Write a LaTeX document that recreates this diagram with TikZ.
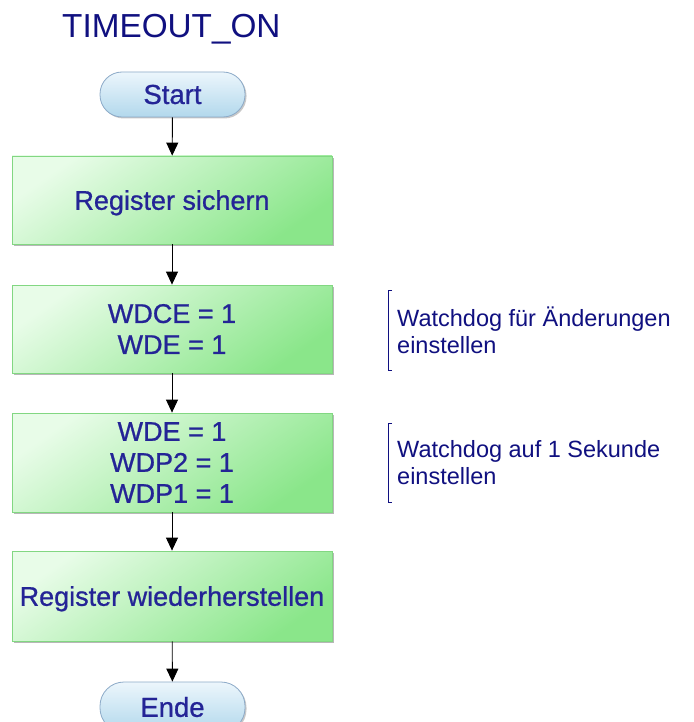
\documentclass[tikz,border=0pt]{standalone}
\usepackage{fontspec}
\setmainfont{Liberation Sans}
\newfontfamily\boxfont[FakeBold=0.8]{Liberation Sans}
\usetikzlibrary{arrows.meta,shadows}
\definecolor{navy}{RGB}{16,16,128}
\definecolor{boxtext}{RGB}{36,36,150}
\definecolor{greenlight}{RGB}{232,252,232}
\definecolor{greendark}{RGB}{138,230,138}
\definecolor{greenline}{RGB}{130,215,130}
\definecolor{bluelight}{RGB}{236,246,252}
\definecolor{bluedark}{RGB}{178,216,236}
\definecolor{blueline}{RGB}{140,170,200}
\tikzset{
  stepbox/.style={draw=greenline, line width=0.8pt,
    top color=greenlight, bottom color=greendark, shading angle=35,
    minimum width=320pt, minimum height=88pt, inner sep=0pt,
    text=boxtext, font=\boxfont\fontsize{27}{31}\selectfont, align=center,
    drop shadow={shadow xshift=2pt, shadow yshift=-2pt, fill=gray!70, opacity=0.8}},
  terminal/.style={draw=blueline, line width=0.8pt,
    top color=bluelight, bottom color=bluedark,
    rounded corners=22pt, minimum width=145pt, minimum height=45pt,
    text=boxtext, font=\boxfont\fontsize{27.5}{30}\selectfont,
    drop shadow={shadow xshift=1.5pt, shadow yshift=-1.5pt, fill=gray!60, opacity=0.7}},
  flow/.style={-{Triangle[width=12pt,length=13pt]}, line width=0.9pt, black},
  note/.style={text=navy, font=\fontsize{23.5}{27}\selectfont, align=left, anchor=west, inner sep=0pt},
  bracket/.style={draw=navy, line width=0.8pt}
}
\begin{document}
\begin{tikzpicture}[x=1pt, y=-1pt]
\useasboundingbox (0,0) rectangle (693,722);
\fill[white] (0,0) rectangle (693,722);

% title
\node[text=navy, font=\fontsize{33.3}{36}\selectfont, anchor=base west, inner sep=0pt] (title) at (62,38) {TIMEOUT\_ON};

% flow chart
\node[terminal] (start) at (172.5,94.5) {Start};
\node[stepbox, text depth=0pt] (save) at (172,200) {Register sichern};
\node[stepbox] (wdce) at (172,329) {WDCE = 1\\WDE = 1};
\node[stepbox, minimum height=99pt] (wdp) at (172,462.5) {WDE = 1\\WDP2 = 1\\WDP1 = 1};
\node[stepbox, minimum height=90pt, text depth=0pt] (restore) at (172,596) {Register wiederherstellen};
\node[terminal, minimum height=50pt, rounded corners=24pt] (ende) at (172.5,707) {Ende};

\draw[flow] (start) -- (save);
\draw[flow] (save) -- (wdce);
\draw[flow] (wdce) -- (wdp);
\draw[flow] (wdp) -- (restore);
\draw[flow] (restore) -- (ende);

% side notes
\draw[bracket] (392,290) -- (388,290) -- (388,370) -- (392,370);
\node[note] (note1) at (397,330) {Watchdog für Änderungen\\einstellen};
\draw[bracket] (392,423) -- (388,423) -- (388,502) -- (392,502);
\node[note] (note2) at (397,463) {Watchdog auf 1 Sekunde\\einstellen};
\end{tikzpicture}
\end{document}
